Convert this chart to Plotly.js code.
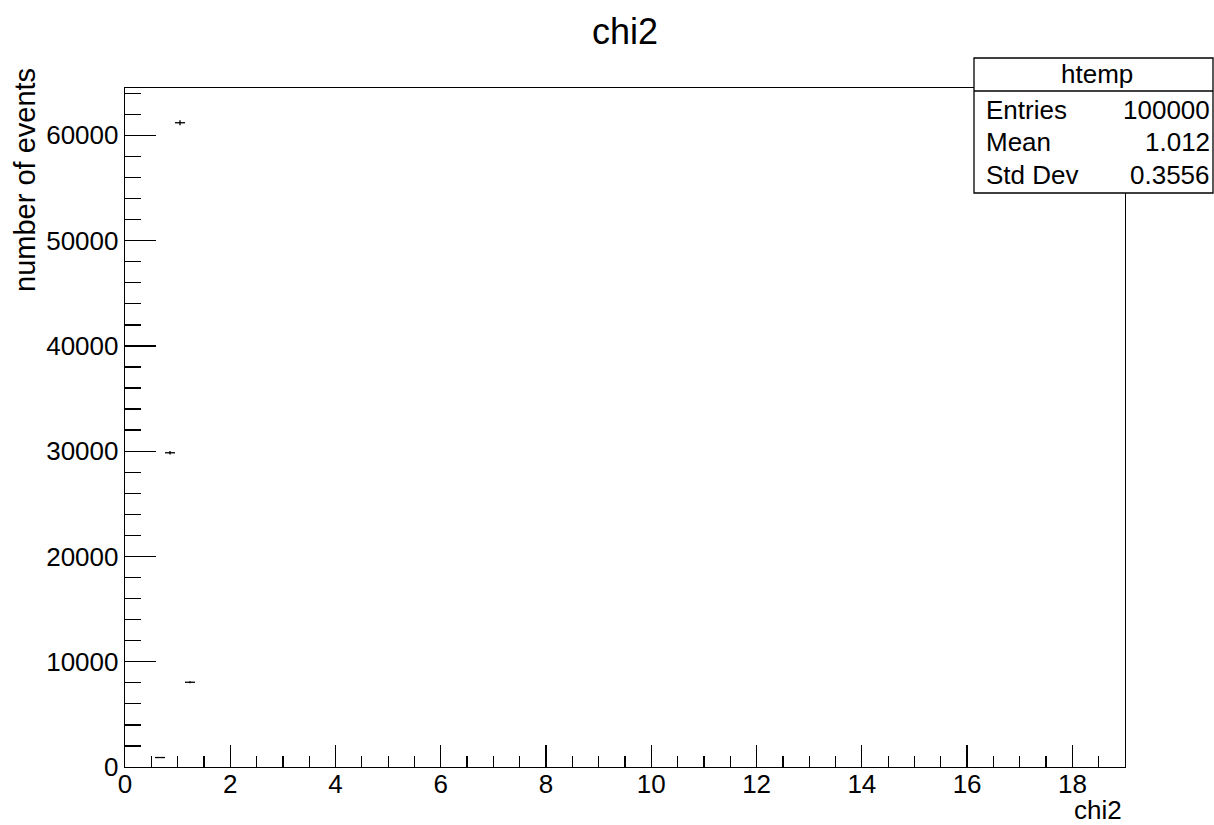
<!DOCTYPE html>
<html>
<head>
<meta charset="utf-8">
<script src="https://cdn.plot.ly/plotly-3.0.1.min.js"></script>
<style>html,body{margin:0;padding:0;background:#fff;}#plot{width:1214px;height:825px;}</style>
</head>
<body>
<div id="plot"></div>
<script>
// Histogram "chi2" (htemp), 100 bins over [0, 19]; only non-empty bins listed
const binCenters = [0.665, 0.855, 1.045, 1.235];
const binCounts = [900, 29850, 61200, 8050];
const binWidth = 0.19;
const xTickVals = [0, 2, 4, 6, 8, 10, 12, 14, 16, 18];
const yTickVals = [0, 10000, 20000, 30000, 40000, 50000, 60000];
const statsLabels = ["Entries", "Mean", "Std Dev"];
const statsValues = ["100000", "1.012", "0.3556"];

const W = 1214, H = 825;
const L = 125, R = 1125, T = 88, B = 767;
const px = x => (x - L) / (R - L);
const py = y => (B - y) / (B - T);
const FONT = "Liberation Sans, Arial, Helvetica, sans-serif";

const trace = {
  type: 'scatter',
  mode: 'markers',
  x: binCenters,
  y: binCounts,
  marker: {size: 1, color: 'black'},
  error_x: {type: 'data', array: binCenters.map(() => binWidth / 2), color: 'black', thickness: 1.3, width: 0},
  error_y: {type: 'data', array: binCounts.map(v => Math.sqrt(v)), color: 'black', thickness: 1.3, width: 0},
  hoverinfo: 'x+y'
};

const rowY = [110, 142, 175];
const annotations = [
  {text: 'chi2', x: px(625), y: py(31), xref: 'paper', yref: 'paper', xanchor: 'center', yanchor: 'middle', showarrow: false, font: {family: FONT, size: 36, color: 'black'}},
  {text: 'number of events', x: px(25), y: py(66), xref: 'paper', yref: 'paper', xanchor: 'center', yanchor: 'top', textangle: -90, showarrow: false, font: {family: FONT, size: 29, color: 'black'}},
  {text: 'chi2', x: px(1124), y: py(810), xref: 'paper', yref: 'paper', xanchor: 'right', yanchor: 'middle', showarrow: false, font: {family: FONT, size: 26, color: 'black'}},
  {text: 'htemp', x: px(1097), y: py(74), xref: 'paper', yref: 'paper', xanchor: 'center', yanchor: 'middle', showarrow: false, font: {family: FONT, size: 26, color: 'black'}}
];
statsLabels.forEach((lab, i) => {
  annotations.push({text: lab, x: px(984), y: py(rowY[i]), xref: 'paper', yref: 'paper', xanchor: 'left', yanchor: 'middle', showarrow: false, font: {family: FONT, size: 26, color: 'black'}});
  annotations.push({text: statsValues[i], x: px(1212), y: py(rowY[i]), xref: 'paper', yref: 'paper', xanchor: 'right', yanchor: 'middle', showarrow: false, font: {family: FONT, size: 26, color: 'black'}});
});

const layout = {
  width: W, height: H,
  margin: {l: L, r: W - R, t: T, b: H - B, pad: 0},
  paper_bgcolor: 'white', plot_bgcolor: 'white',
  showlegend: false,
  font: {family: FONT, size: 26, color: 'black'},
  xaxis: {
    range: [0, 19], tickvals: xTickVals, ticktext: xTickVals.map(String),
    ticks: 'inside', ticklen: 22, tickwidth: 1.3, tickcolor: 'black',
    ticklabelstandoff: -7,
    minor: {dtick: 0.5, tick0: 0, ticks: 'inside', ticklen: 11, tickwidth: 1.3, tickcolor: 'black'},
    showline: true, linecolor: 'black', linewidth: 1.3, mirror: true,
    showgrid: false, zeroline: false, tickfont: {family: FONT, size: 26, color: 'black'}
  },
  yaxis: {
    range: [0, 64500], tickvals: yTickVals, ticktext: yTickVals.map(String),
    ticks: 'inside', ticklen: 31, tickwidth: 1.3, tickcolor: 'black',
    minor: {dtick: 2000, tick0: 0, ticks: 'inside', ticklen: 16, tickwidth: 1.3, tickcolor: 'black'},
    showline: true, linecolor: 'black', linewidth: 1.3, mirror: true,
    showgrid: false, zeroline: false, tickfont: {family: FONT, size: 26, color: 'black'}
  },
  shapes: [
    {type: 'rect', xref: 'paper', yref: 'paper', x0: px(974), x1: px(1213), y0: py(193), y1: py(58), fillcolor: 'white', line: {color: 'black', width: 1.3}, layer: 'above'},
    {type: 'line', xref: 'paper', yref: 'paper', x0: px(974), x1: px(1213), y0: py(91), y1: py(91), line: {color: 'black', width: 1.3}, layer: 'above'}
  ],
  annotations: annotations
};

Plotly.newPlot('plot', [trace], layout, {displayModeBar: false, staticPlot: true});
</script>
</body>
</html>
